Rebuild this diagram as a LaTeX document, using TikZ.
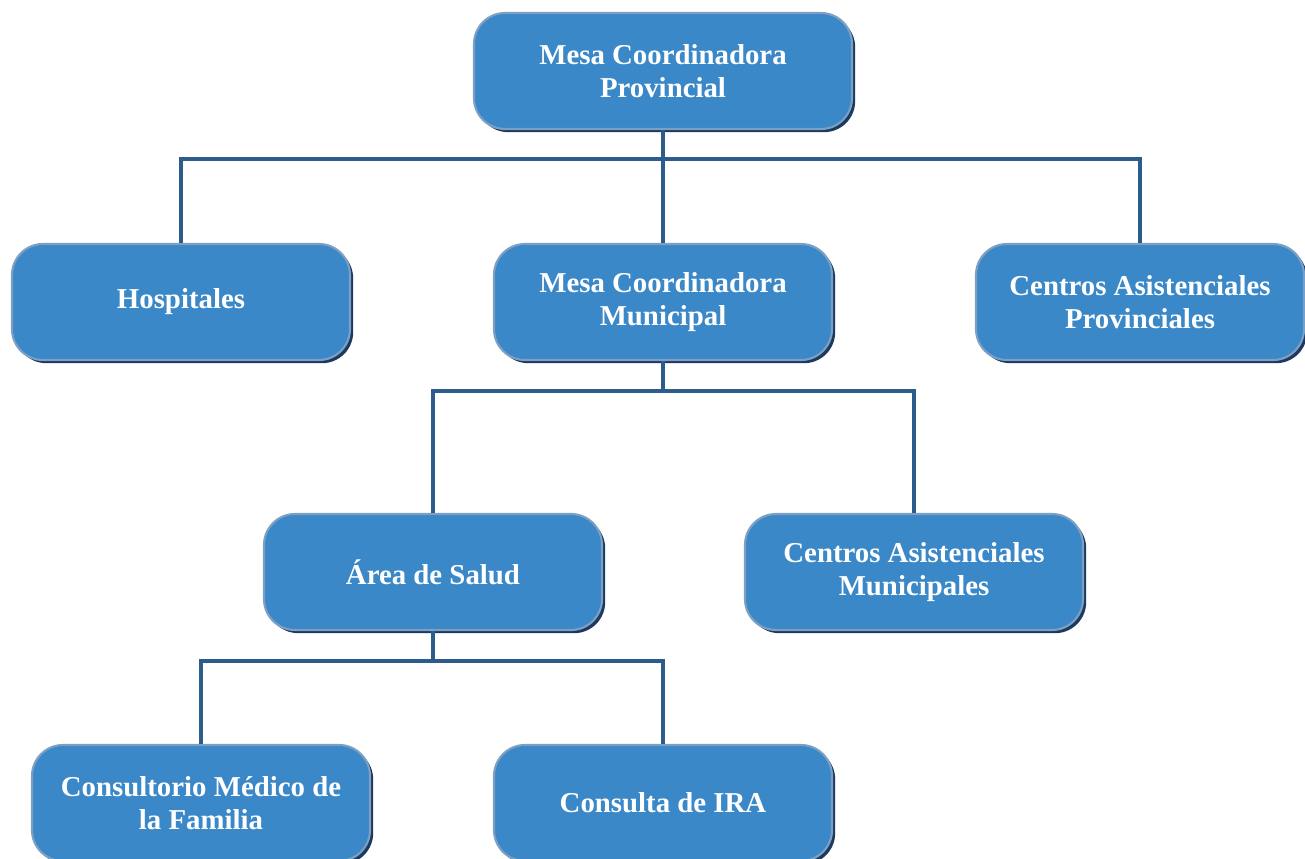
\documentclass[tikz,border=0pt]{standalone}
\usepackage{fontspec}
\setmainfont{Liberation Serif}
\usetikzlibrary{shadows}
\definecolor{boxblue}{HTML}{3A88C8}
\definecolor{boxedge}{HTML}{7C9FC4}
\definecolor{boxshade}{HTML}{1D3A5E}
\definecolor{linkblue}{HTML}{2C5C8C}
\begin{document}
\begin{tikzpicture}[node distance=4.62cm]
        \tikzstyle{unit} = [rectangle, rounded corners=0.62cm, draw=boxedge, line width=1.2pt, fill=boxblue, minimum width=6.76cm, minimum height=2.32cm, align=center, text=white, font=\fontsize{16.4}{19}\selectfont\bfseries, drop shadow={shadow xshift=1.8pt, shadow yshift=-1.8pt, fill=boxshade, opacity=1}]
        \tikzstyle{link} = [linkblue, line width=2.3pt]

        \useasboundingbox (0,0) rectangle (26.1,-17.18);

        \node (prov) [unit, minimum width=7.56cm] at (13.26,-1.42) {Mesa Coordinadora\\Provincial};
        \node (mun) [unit, below of=prov] {Mesa Coordinadora\\Municipal};
        \node (hosp) [unit, left of=mun, xshift=-5.02cm] {Hospitales};
        \node (capro) [unit, minimum width=6.56cm, right of=mun, xshift=4.92cm] {Centros Asistenciales\\Provinciales};
        \node (area) [unit, below of=mun, xshift=-4.6cm, yshift=-0.78cm] {Área de Salud};
        \node (camun) [unit, below of=mun, xshift=5.02cm, yshift=-0.78cm] {Centros Asistenciales\\Municipales};
        \node (cmf) [unit, below of=area, xshift=-4.64cm] {Consultorio Médico de\\la Familia};
        \node (ira) [unit, below of=area, xshift=4.6cm] {Consulta de IRA};

        \draw [link] (prov) -- (mun);
        \draw [link] (prov.south) -- ++(0,-0.58) -| (hosp.north);
        \draw [link] (prov.south) -- ++(0,-0.58) -| (capro.north);
        \draw [link] (mun.south) -- ++(0,-0.6) -| (area.north);
        \draw [link] (mun.south) -- ++(0,-0.6) -| (camun.north);
        \draw [link] (area.south) -- ++(0,-0.6) -| (cmf.north);
        \draw [link] (area.south) -- ++(0,-0.6) -| (ira.north);
    \end{tikzpicture}
\end{document}
